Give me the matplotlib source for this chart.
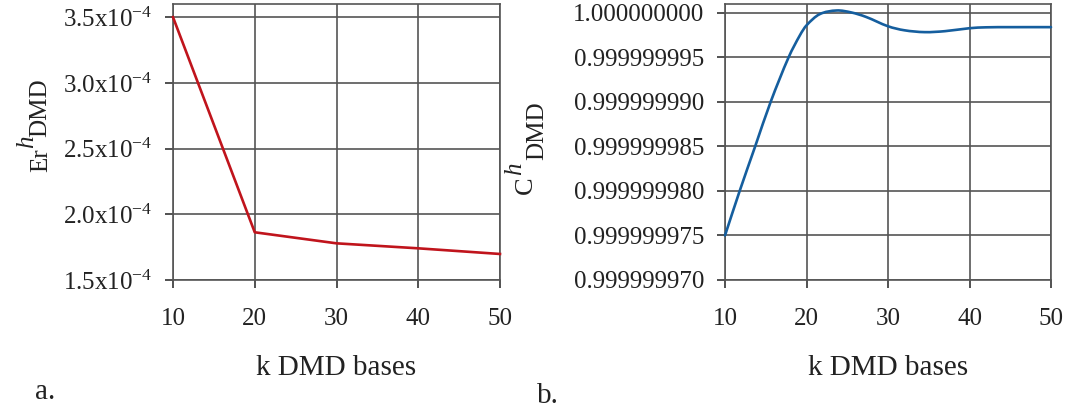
import matplotlib
matplotlib.use("Agg")
import matplotlib.pyplot as plt
from matplotlib.ticker import FixedLocator, FuncFormatter
from matplotlib.path import Path
from matplotlib.patches import PathPatch

plt.rcParams['font.family'] = ['Liberation Serif', 'DejaVu Serif']
plt.rcParams['mathtext.fontset'] = 'custom'
plt.rcParams['mathtext.rm'] = 'Liberation Serif'
plt.rcParams['mathtext.it'] = 'Liberation Serif:italic'

# ---- data ----
er_k = [10, 20, 30, 40, 50]
er_values = [3.50e-4, 1.863e-4, 1.779e-4, 1.741e-4, 1.698e-4]

c_k = [10, 11.8, 13.7, 15.6, 17.8, 19.2, 20, 21.6, 23.7, 25.5, 27.3,
       30, 32, 34.5, 37, 40, 42, 45, 50]
c_values = [0.999999975, 0.999999980, 0.999999985, 0.999999990,
            0.999999995, 0.9999999975, 0.9999999986, 0.99999999985,
            1.00000000027, 1.00000000005, 0.99999999955, 0.9999999985,
            0.99999999805, 0.99999999784, 0.99999999795, 0.99999999828,
            0.99999999838, 0.9999999984, 0.9999999984]

x_ticks = [10, 20, 30, 40, 50]
er_ticks = [1.5e-4, 2.0e-4, 2.5e-4, 3.0e-4, 3.5e-4]
er_tick_labels = ['1.5', '2.0', '2.5', '3.0', '3.5']
c_ticks = [0.999999970, 0.999999975, 0.999999980, 0.999999985,
           0.999999990, 0.999999995, 1.000000000]
c_tick_labels = ['0.999999970', '0.999999975', '0.999999980', '0.999999985',
                 '0.999999990', '0.999999995', '1.000000000']

W, H = 1068, 412
fig = plt.figure(figsize=(W / 100, H / 100), dpi=100)

grid_col = '#555555'


def px_axes(x0, x1, y0, y1):
    return fig.add_axes([x0 / W, 1 - y1 / H, (x1 - x0) / W, (y1 - y0) / H])


def style(ax):
    for s in ax.spines.values():
        s.set_color(grid_col)
        s.set_linewidth(1.2)
    ax.grid(True, color=grid_col, linewidth=1.2)
    ax.set_axisbelow(True)
    ax.tick_params(axis='both', direction='out', length=6, width=1.2,
                   color='#333333', labelsize=18, labelcolor='#222222')
    ax.tick_params(axis='x', pad=14)
    ax.tick_params(axis='y', pad=9)
    ax.set_xlim(10, 50)
    ax.xaxis.set_major_locator(FixedLocator(x_ticks))


def smooth_line(ax, xs, ys, **kw):
    """Smoothed line (Bezier through the data points, like a spreadsheet 'smoothed line')."""
    n = len(xs)
    verts = [(xs[0], ys[0])]
    codes = [Path.MOVETO]
    for i in range(n - 1):
        xp, yp = (xs[i - 1], ys[i - 1]) if i > 0 else (xs[i], ys[i])
        xn, yn = (xs[i + 2], ys[i + 2]) if i + 2 < n else (xs[i + 1], ys[i + 1])
        h = xs[i + 1] - xs[i]
        s0 = (ys[i + 1] - yp) / (xs[i + 1] - xp)
        s1 = (yn - ys[i]) / (xn - xs[i])
        verts += [(xs[i] + h / 3, ys[i] + s0 * h / 3),
                  (xs[i + 1] - h / 3, ys[i + 1] - s1 * h / 3),
                  (xs[i + 1], ys[i + 1])]
        codes += [Path.CURVE4] * 3
    patch = PathPatch(Path(verts, codes), fill=False, transform=ax.transData, **kw)
    ax.add_patch(patch)


# left panel
ax1 = px_axes(173, 500, 4, 280)
style(ax1)
ax1.plot(er_k, er_values, color='#C0141C', linewidth=1.9, clip_on=False, zorder=3)
ax1.set_ylim(1.5e-4, 3.6e-4)
ax1.yaxis.set_major_locator(FixedLocator(er_ticks))
ax1.yaxis.set_major_formatter(FuncFormatter(
    lambda v, p: er_tick_labels[er_ticks.index(min(er_ticks, key=lambda t: abs(t - v)))]
    + r'x10$^{\mathregular{-4}}$'))

# right panel
ax2 = px_axes(725, 1051, 4, 280)
style(ax2)
smooth_line(ax2, c_k, c_values, edgecolor='#155E9E', linewidth=1.9,
            clip_on=False, zorder=3, capstyle='round', joinstyle='round')
ax2.set_ylim(0.999999970, 1.000000001)
ax2.yaxis.set_major_locator(FixedLocator(c_ticks))
ax2.yaxis.set_major_formatter(FuncFormatter(
    lambda v, p: c_tick_labels[c_ticks.index(min(c_ticks, key=lambda t: abs(t - v)))]))


def ftxt(x, y, s, size, **kw):
    return fig.text(x / W, 1 - y / H, s, fontsize=size, color='#222222', **kw)


# y labels built from pieces (rotated)
rot = dict(rotation=90, rotation_mode='anchor', ha='left', va='baseline')
ftxt(47, 172, 'Er', 18, **rot)
ftxt(33, 148, 'h', 18, style='italic', **rot)
ftxt(46, 137, 'DMD', 18, **rot)

ftxt(532, 194, 'C', 19, **rot)
ftxt(521, 175, 'h', 18, style='italic', **rot)
ftxt(543, 160, 'DMD', 18, **rot)

# x labels and panel letters
ftxt(336, 368, 'k DMD bases', 21, ha='center', va='center')
ftxt(888, 368, 'k DMD bases', 21, ha='center', va='center')
ftxt(35, 392, 'a.', 21, ha='left', va='center')
ftxt(537, 396, 'b.', 21, ha='left', va='center')

fig.savefig('out.png', dpi=100)
